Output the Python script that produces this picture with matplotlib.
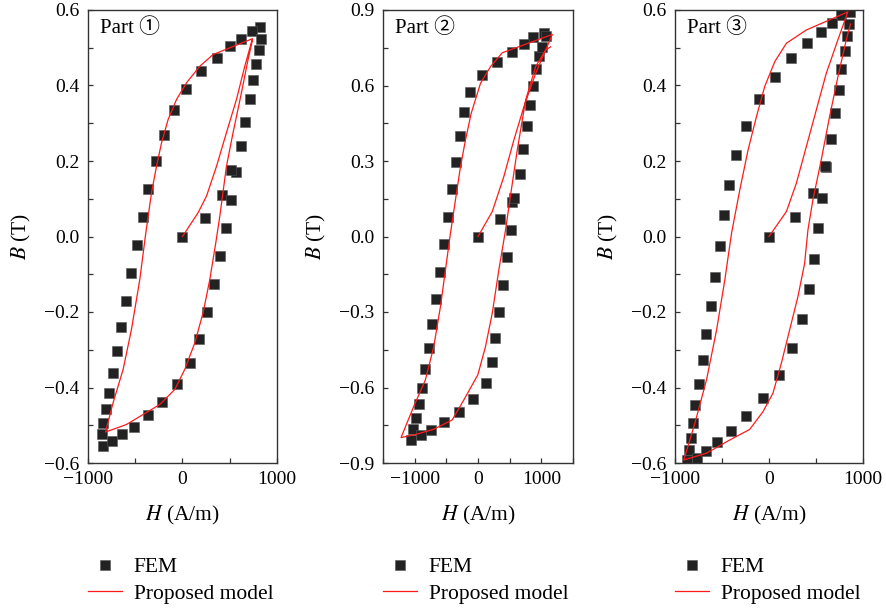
import matplotlib
matplotlib.use("Agg")
import matplotlib.pyplot as plt
from matplotlib.ticker import MultipleLocator

plt.rcParams['font.family'] = ['Liberation Serif', 'Noto Sans CJK SC', 'DejaVu Sans']
plt.rcParams['mathtext.fontset'] = 'stix'

# Part 1 - FEM points
fem_h1 = [-10, 243, 818, 740, 624, 500, 360, 201, 35, -92, -195, -283, -360, -423,
          -484, -544, -593, -646, -692, -734, -773, -808, -836, -854, -840,
          -741, -639, -518, -370, -216, -53, 80, 176, 257, 331, 398, 465,
          413, 518, 571, 518, 617, 666, 712, 747, 783, 811, 828]
fem_b1 = [0.0, 0.05, 0.554, 0.544, 0.524, 0.504, 0.473, 0.438, 0.391, 0.336, 0.270, 0.200, 0.127, 0.052,
          -0.023, -0.098, -0.170, -0.239, -0.302, -0.361, -0.414, -0.458, -0.495, -0.522, -0.555,
          -0.542, -0.524, -0.504, -0.474, -0.438, -0.392, -0.336, -0.271, -0.200, -0.127, -0.052, 0.023,
          0.109, 0.098, 0.170, 0.176, 0.239, 0.303, 0.363, 0.414, 0.458, 0.495, 0.524]
# Part 1 - proposed model (initial curve, descending, ascending)
mod_h1 = [0, 165, 254, 360, 465, 571, 659, 740,
          324, 183, 42, -63, -152, -222, -275, -328, -388, -452, -540, -628, -734, -815,
          -593, -240, -81, 24, 130, 218, 289, 352, 395, 465, 535, 624, 694, 740]
mod_b1 = [0, 0.063, 0.107, 0.186, 0.275, 0.363, 0.451, 0.524,
          0.482, 0.451, 0.407, 0.363, 0.310, 0.248, 0.186, 0.116, 0.010, -0.114, -0.246, -0.352, -0.440, -0.518,
          -0.498, -0.445, -0.405, -0.352, -0.282, -0.202, -0.114, -0.017, 0.054, 0.186, 0.275, 0.381, 0.469, 0.520]

# Part 2 - FEM points
fem_h2 = [0, 345, 1041, 873, 725, 530, 293, 66, -134, -225, -277, -340, -408, -478,
          -530, -604, -667, -725, -778, -830, -883, -936, -978, -1025, -1057,
          -899, -736, -530, -304, -76, 123, 225, 272, 335, 392, 462, 525,
          530, 566, 657, 709, 767, 815, 873, 921, 968, 1016, 1068]
fem_b2 = [0.0, 0.068, 0.807, 0.791, 0.765, 0.734, 0.695, 0.642, 0.575, 0.493, 0.399, 0.295, 0.188, 0.076,
          -0.031, -0.142, -0.248, -0.349, -0.442, -0.528, -0.603, -0.667, -0.722, -0.765, -0.808,
          -0.789, -0.769, -0.738, -0.698, -0.647, -0.581, -0.500, -0.402, -0.301, -0.193, -0.083, 0.026,
          0.138, 0.154, 0.248, 0.346, 0.439, 0.522, 0.598, 0.664, 0.717, 0.754, 0.797]
mod_h2 = [0, 225, 408, 566, 725, 910, 1174,
          383, 198, 40, -108, -198, -277, -356, -435, -514, -593, -699, -831, -1016, -1215,
          -962, -699, -408, -225, -3, 118, 225, 329, 435, 503, 620, 752, 910, 1068, 1147]
mod_b2 = [0, 0.099, 0.238, 0.383, 0.516, 0.648, 0.803,
          0.730, 0.675, 0.609, 0.489, 0.383, 0.277, 0.145, 0.013, -0.133, -0.279, -0.438, -0.570, -0.676, -0.799,
          -0.785, -0.766, -0.729, -0.650, -0.550, -0.438, -0.305, -0.133, 0.026, 0.145, 0.344, 0.542, 0.675, 0.741, 0.754]

# Part 3 - FEM points
fem_h3 = [0, 273, 864, 768, 673, 556, 403, 238, 61, -106, -247, -353, -428, -477,
          -523, -573, -619, -665, -704, -747, -782, -807, -832, -856, -877,
          -771, -675, -555, -399, -240, -64, 106, 241, 347, 425, 475, 520,
          467, 563, 609, 595, 662, 705, 743, 771, 811, 832, 856]
fem_b3 = [0.0, 0.051, 0.595, 0.587, 0.566, 0.543, 0.512, 0.472, 0.423, 0.363, 0.293, 0.216, 0.136, 0.057,
          -0.025, -0.106, -0.184, -0.258, -0.327, -0.391, -0.446, -0.495, -0.535, -0.566, -0.592,
          -0.588, -0.567, -0.545, -0.515, -0.476, -0.427, -0.367, -0.296, -0.219, -0.140, -0.060, 0.023,
          0.114, 0.103, 0.183, 0.188, 0.257, 0.326, 0.388, 0.443, 0.492, 0.531, 0.563]
mod_h3 = [0, 185, 291, 397, 503, 609, 733, 839,
          397, 185, 61, -46, -134, -223, -311, -399, -470, -558, -665, -789, -906,
          -665, -417, -205, -64, 42, 131, 219, 308, 379, 414, 467, 556, 644, 733, 822, 867]
mod_b3 = [0, 0.066, 0.141, 0.238, 0.335, 0.432, 0.521, 0.595,
          0.547, 0.512, 0.463, 0.397, 0.317, 0.229, 0.123, 0.008, -0.115, -0.248, -0.380, -0.495, -0.592,
          -0.574, -0.539, -0.511, -0.464, -0.415, -0.336, -0.248, -0.159, -0.071, 0.017, 0.097, 0.203, 0.317, 0.423, 0.521, 0.563]

parts = ['Part \u2460', 'Part \u2461', 'Part \u2462']
xlims = [(-1000, 1000), (-1500, 1500), (-1000, 1000)]
ylims = [(-0.6, 0.6), (-0.9, 0.9), (-0.6, 0.6)]
yticks = [0.2, 0.3, 0.2]
lefts = [88, 383, 675]
widths = [189, 190, 188]

W, H = 887, 610
fig = plt.figure(figsize=(W / 100, H / 100), dpi=100)

data = [(fem_h1, fem_b1, mod_h1, mod_b1),
        (fem_h2, fem_b2, mod_h2, mod_b2),
        (fem_h3, fem_b3, mod_h3, mod_b3)]

for i, (fh, fb, mh, mb) in enumerate(data):
    ax = fig.add_axes([lefts[i] / W, 1 - 463 / H, widths[i] / W, 453 / H])
    ax.plot(fh, fb, 's', color='#222222', markeredgecolor='#555555', markeredgewidth=0.4,
            markersize=7.2, label='FEM', zorder=2)
    ax.plot(mh, mb, '-', color='#ff1a1a', lw=0.9, label='Proposed model', zorder=3)
    ax.set_xlim(*xlims[i])
    ax.set_ylim(*ylims[i])
    ax.xaxis.set_major_locator(MultipleLocator(1000))
    ax.xaxis.set_minor_locator(MultipleLocator(500))
    ax.yaxis.set_major_locator(MultipleLocator(yticks[i]))
    ax.yaxis.set_minor_locator(MultipleLocator(yticks[i] / 2))
    ax.tick_params(which='both', direction='in', length=3.5, width=0.9, color='#333333',
                   labelsize=14, top=False, right=False)
    ax.tick_params(axis='x', pad=6)
    ax.tick_params(axis='y', pad=6)
    for s in ax.spines.values():
        s.set_linewidth(1.0)
        s.set_color('#333333')
    ax.set_xlabel('$H$ (A/m)', fontsize=15.5)
    ax.xaxis.set_label_coords(0.5, -41 / 453)
    ax.set_ylabel('$B$ (T)', fontsize=15.5, labelpad=8)
    ax.text(12 / widths[i], 1 - 8 / 453, parts[i], transform=ax.transAxes,
            ha='left', va='top', fontsize=15)
    fig.legend(handles=ax.get_lines(), loc='upper left',
               bbox_to_anchor=(lefts[i] / W, 1 - 557 / H), frameon=False,
               fontsize=15.5, borderpad=0, borderaxespad=0, handlelength=1.6,
               handletextpad=0.53, labelspacing=0.3)

fig.savefig('out.png', dpi=100)
